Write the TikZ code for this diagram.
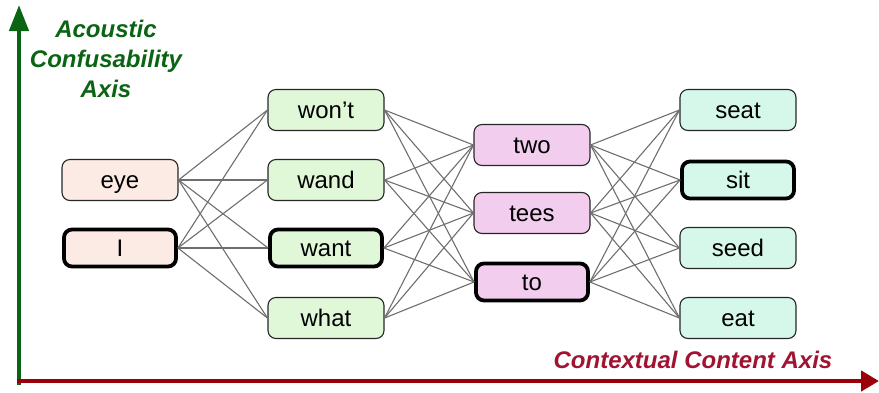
\documentclass[tikz,border=0pt]{standalone}
\usepackage{fontspec}
\setmainfont{Liberation Sans}
\usetikzlibrary{arrows.meta}
\definecolor{cA}{RGB}{252,235,228}
\definecolor{cB}{RGB}{224,248,216}
\definecolor{cC}{RGB}{242,205,238}
\definecolor{cD}{RGB}{214,248,234}
\definecolor{axgreen}{RGB}{10,100,20}
\definecolor{axred}{RGB}{155,0,10}
\definecolor{txred}{RGB}{160,20,50}
\definecolor{edgegray}{RGB}{110,110,110}
\tikzset{
  word/.style={draw=black!85, line width=1.1pt, rounded corners=8pt, minimum width=116pt, minimum height=41pt, inner sep=0pt, text height=20pt, text depth=4pt, font=\fontsize{24}{26}\selectfont},
  best/.style={draw=black, line width=3.8pt, minimum width=112pt, minimum height=37pt},
  link/.style={draw=edgegray, line width=1.1pt},
  axlabel/.style={font=\fontsize{24}{26}\selectfont\bfseries\itshape, anchor=base, inner sep=0pt}
}
\begin{document}
\begin{tikzpicture}[x=1pt,y=-1pt]
\useasboundingbox (0,0) rectangle (879,392);
% nodes
\node[word, fill=cA] (eye) at (120,180) {eye};
\node[word, best, fill=cA] (I) at (120,248) {I};
\node[word, fill=cB] (wont) at (326,110) {won’t};
\node[word, fill=cB] (wand) at (326,180) {wand};
\node[word, best, fill=cB] (want) at (326,248) {want};
\node[word, fill=cB] (what) at (326,318) {what};
\node[word, fill=cC] (two) at (532,145) {two};
\node[word, fill=cC] (tees) at (532,213) {tees};
\node[word, best, fill=cC] (to) at (532,282) {to};
\node[word, fill=cD] (seat) at (738,110) {seat};
\node[word, best, fill=cD] (sit) at (738,180) {sit};
\node[word, fill=cD] (seed) at (738,248) {seed};
\node[word, fill=cD] (eat) at (738,318) {eat};
% edges
\foreach \a in {eye,I}{\foreach \b in {wont,wand,want,what}{\draw[link] (\a.east) -- (\b.west);}}
\foreach \a in {wont,wand,want,what}{\foreach \b in {two,tees,to}{\draw[link] (\a.east) -- (\b.west);}}
\foreach \a in {two,tees,to}{\foreach \b in {seat,sit,seed,eat}{\draw[link] (\a.east) -- (\b.west);}}
% axes
\coordinate (vbot) at (19,385);
\coordinate (vtop) at (19,5);
\coordinate (hleft) at (17,381);
\coordinate (hright) at (879,381);
\draw[axgreen, line width=4.5pt, -{Triangle[length=26pt,width=19pt]}] (vbot) -- (vtop);
\draw[axred, line width=4.5pt, -{Triangle[length=18pt,width=20pt]}] (hleft) -- (hright);
% axis labels
\node[axlabel, text=axgreen] (l1) at (106,37) {Acoustic};
\node[axlabel, text=axgreen] (l2) at (106,67) {Confusability};
\node[axlabel, text=axgreen] (l3) at (106,97) {Axis};
\node[axlabel, text=txred] (l4) at (693,368) {Contextual Content Axis};
\end{tikzpicture}
\end{document}
